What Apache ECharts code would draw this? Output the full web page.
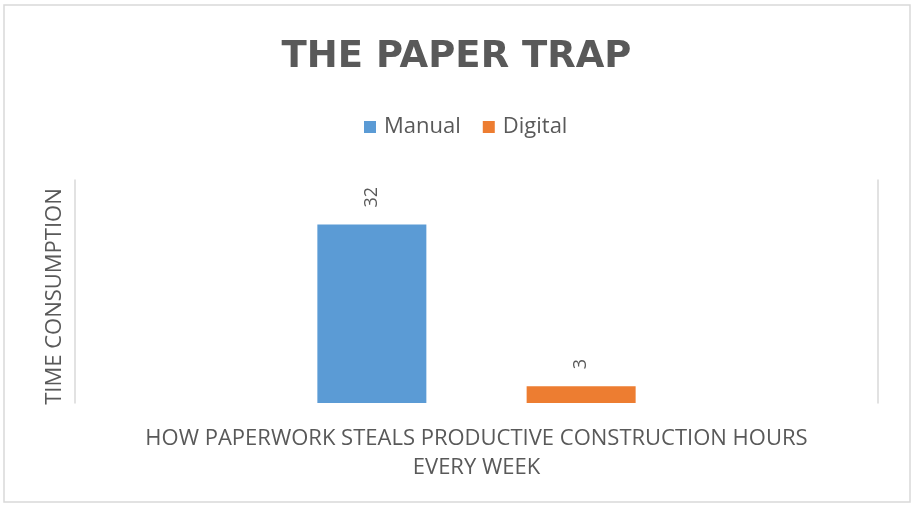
<!DOCTYPE html>
<html><head><meta charset="utf-8">
<script src="https://cdn.jsdelivr.net/npm/echarts@6/dist/echarts.min.js"></script>
<style>html,body{margin:0;padding:0;background:#fff}#c{width:913px;height:508px}</style>
</head><body><div id="c"></div>
<script>
const categories = ['HOW PAPERWORK STEALS PRODUCTIVE CONSTRUCTION HOURS\nEVERY WEEK'];
const seriesNames = ['Manual', 'Digital'];
const manualValues = [32];
const digitalValues = [3];
const seriesColors = ['#5B9BD5', '#ED7D31'];

const chart = echarts.init(document.getElementById('c'));
const labelCfg = {show:true, position:'top', rotate:90, distance:17, color:'#595959', fontSize:18, fontFamily:'Open Sans', align:'left', verticalAlign:'middle'};
chart.setOption({
  animation:false,
  graphic:[{type:'rect', shape:{x:4,y:5,width:906,height:497}, style:{fill:'none', stroke:'#d9d9d9', lineWidth:1.5}, silent:true}],
  title:{text:'THE PAPER TRAP', left:'center', top:34, textStyle:{fontFamily:'DejaVu Sans', fontWeight:'bold', fontSize:37, color:'#595959'}},
  legend:{top:111, left:359, itemWidth:12, itemHeight:12, itemGap:22, icon:'rect', textStyle:{fontFamily:'Open Sans', fontSize:22, color:'#595959', padding:[0,0,0,3]}, data:seriesNames},
  grid:{left:75, right:35, top:180, bottom:105, containLabel:false},
  xAxis:{type:'category', data:categories, axisLine:{show:false}, axisTick:{show:false},
    axisLabel:{color:'#595959', fontFamily:'Open Sans', fontSize:22, lineHeight:29, margin:21}},
  yAxis:[
    {type:'value', min:0, max:40, interval:10, splitLine:{show:false}, axisLabel:{show:false}, axisTick:{show:false},
     axisLine:{show:true, lineStyle:{color:'#d9d9d9', width:1.5}},
     name:'TIME CONSUMPTION', nameLocation:'middle', nameGap:9, nameRotate:90,
     nameTextStyle:{color:'#595959', fontFamily:'Open Sans', fontSize:22, padding:[0,10,0,0]}},
    {type:'value', position:'right', min:0, max:40, interval:10, splitLine:{show:false}, axisLabel:{show:false}, axisTick:{show:false},
     axisLine:{show:true, lineStyle:{color:'#d9d9d9', width:1.5}}}
  ],
  series:[
    {name:seriesNames[0], type:'bar', data:manualValues, barWidth:109, barGap:'92%', itemStyle:{color:seriesColors[0]}, label:labelCfg},
    {name:seriesNames[1], type:'bar', data:digitalValues, barWidth:109, itemStyle:{color:seriesColors[1]}, label:labelCfg}
  ]
});
</script></body></html>
